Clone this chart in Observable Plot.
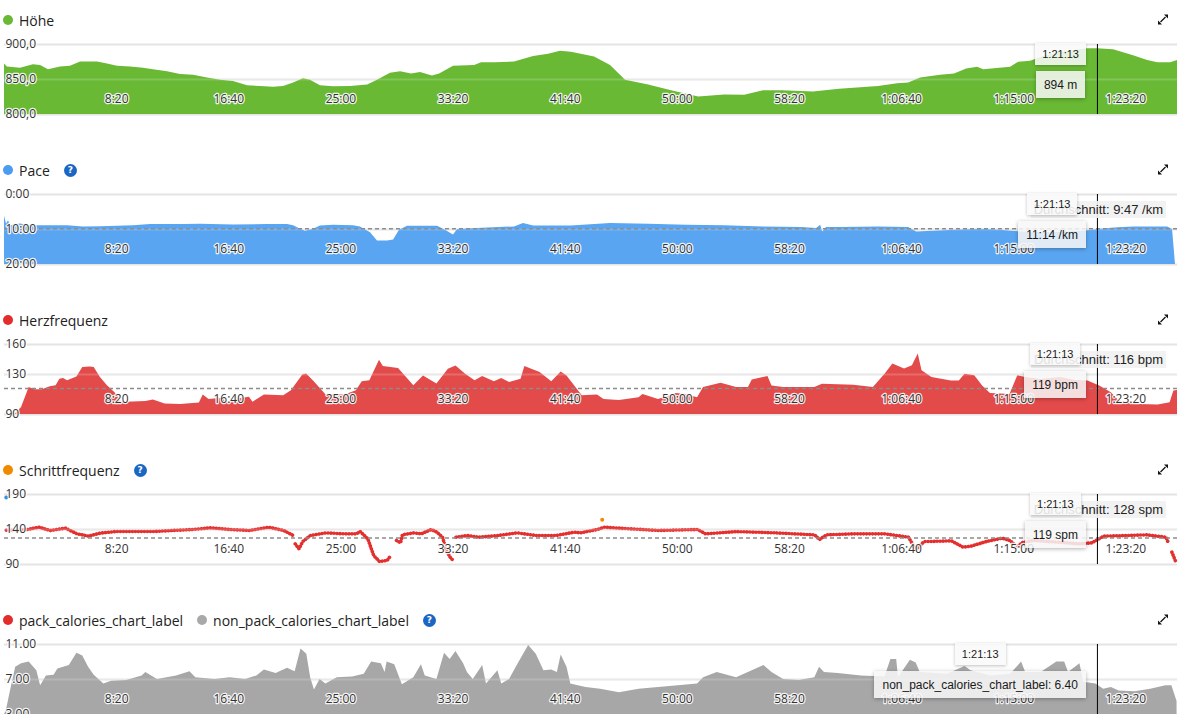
<!DOCTYPE html>
<html>
<head>
<meta charset="utf-8">
<script src="https://cdn.jsdelivr.net/npm/d3@7"></script>
<script src="https://cdn.jsdelivr.net/npm/@observablehq/plot@0.6"></script>
<style>
html,body{margin:0;padding:0;overflow:hidden;background:#fff;}
#root{position:relative;width:1192px;height:714px;overflow:hidden;font-family:"Open Sans",sans-serif;}
.panel{position:absolute;left:0;width:1192px;height:150px;}
.head{position:absolute;left:3px;top:10px;height:20px;display:flex;align-items:center;font-size:14px;color:#222;white-space:nowrap;}
.item{display:flex;align-items:center;margin-right:14px;}
.dot{width:10px;height:10px;border-radius:50%;display:inline-block;margin-right:6px;}
.help{width:13px;height:13px;border-radius:50%;background:#1b66c3;color:#fff;font:bold 9px "DejaVu Sans",sans-serif;display:flex;align-items:center;justify-content:center;}
.chart{position:absolute;left:0;top:30px;}
.expand{position:absolute;left:1157px;top:13px;}
.tipwrap{position:absolute;display:flex;flex-direction:column;align-items:center;gap:6px;z-index:3;}
.tbox{height:22px;padding:0 7px;background:rgba(249,249,249,0.88);box-shadow:0 1px 3px rgba(0,0,0,.25);font:11px "Liberation Sans",Arial,sans-serif;color:#1a1a1a;display:flex;align-items:center;}
.vbox{height:27px;padding:0 8px;background:rgba(247,247,247,0.86);box-shadow:0 1px 4px rgba(0,0,0,.3);font:12px "Liberation Sans",Arial,sans-serif;color:#1a1a1a;display:flex;align-items:center;white-space:nowrap;}
.avg{position:absolute;height:17px;padding:0 3px;background:rgba(241,241,241,0.92);font:13px "Liberation Sans",Arial,sans-serif;color:#222;display:flex;align-items:center;z-index:2;white-space:nowrap;}
</style>
</head>
<body>
<div id="root"></div>
<script>
// ---------- data (time in seconds, value) ----------
const T_END = 5230;
const CURSOR = 4873; // 1:21:13
const timeTicks = [500, 1000, 1500, 2000, 2500, 3000, 3500, 4000, 4500, 5000];

const elevation = [
[0,872],[13,868],[71,866],[129,871],[161,870],[196,864],[250,868],[294,869],[339,875],[415,875],
[459,872],[504,869],[562,868],[620,866],[664,864],[727,861],[785,857],[843,856],[905,852],[963,849],
[1021,847],[1084,841],[1142,840],[1200,839],[1244,840],[1289,845],[1333,851],[1364,849],[1409,841],[1467,839.5],
[1543,840],[1619,842],[1663,849],[1721,859],[1766,861],[1815,858],[1855,860],[1908,855],[1940,858],[2002,869],
[2096,870],[2127,874],[2189,874],[2274,875],[2359,883],[2426,886],[2479,890.5],[2528,889],[2631,882],[2702,870],
[2769,849],[2872,842],[2974,834],[3095,825],[3211,828],[3300,827.5],[3384,834],[3469,834],[3607,832],[3723,836],
[3897,840],[3982,844],[4031,845],[4085,852],[4174,856],[4236,858],[4290,865],[4339,867.6],[4366,864],[4486,867.6],
[4522,874.7],[4575,876],[4633,883],[4709,889],[4829,894],[4874,894],[4945,892.4],[5034,884],[5097,877],[5142,874],
[5200,874],[5230,877]
];

// pace in minutes per km
const pace = [
[0,6.2],[9,8.5],[18,7.5],[27,9.0],[40,8.8],[71,8.4],[103,8.8],[129,8.9],[205,8.9],[281,8.9],
[352,9.25],[428,9.2],[504,9.1],[575,8.9],[651,8.6],[798,8.6],[874,8.5],[1021,8.7],[1173,8.6],[1262,8.6],
[1289,8.9],[1320,9.9],[1342,10.5],[1378,9.9],[1409,9.0],[1467,8.8],[1556,8.9],[1587,9.25],[1632,10.9],[1663,13.3],
[1708,13.3],[1735,13.0],[1761,10.2],[1797,9.1],[1931,9.1],[1966,10.2],[2002,11.6],[2020,10.0],[2105,9.7],[2274,9.25],
[2314,8.3],[2359,9.0],[2528,9.0],[2702,8.3],[2872,8.5],[3041,8.8],[3211,8.9],[3384,9.25],[3554,9.4],[3621,9.7],
[3639,8.8],[3648,10.7],[3665,9.4],[3723,9.4],[3897,9.25],[4031,9.4],[4067,10.7],[4236,10.2],[4352,9.9],[4441,10.2],
[4530,10.7],[4664,10.9],[4811,10.5],[4887,9.9],[4963,9.5],[5034,9.25],[5186,9.25],[5208,10.0],[5221,20]
];
const paceAvg = 9 + 47 / 60;

const heartRate = [
[0,90],[50,90.7],[76,97],[110,117],[136,114.8],[169,114.8],[204,117.8],[230,118.7],[247,125.3],[263,126],
[281,123.7],[323,127.6],[349,136.9],[383,137.6],[400,137],[426,127.6],[459,118.7],[494,111.5],[519,102.9],[545,102.2],
[630,102.9],[664,104.5],[716,100.6],[785,99.9],[869,101.5],[886,109.5],[912,104.9],[972,106.2],[989,102.2],[1040,105.5],
[1092,107.2],[1108,102.2],[1159,109.5],[1245,108.8],[1279,113.8],[1330,129.6],[1347,130.6],[1381,122.7],[1433,109.8],[1518,109.5],
[1569,113.8],[1595,122.7],[1629,123.7],[1672,144.2],[1689,137.9],[1757,135.9],[1825,118.7],[1868,128.6],[1928,120.4],[1979,135.2],
[2013,138.6],[2056,130.3],[2098,123.7],[2132,128],[2184,122.7],[2217,126],[2252,122],[2303,125.3],[2320,137.9],[2388,132],
[2440,122.7],[2482,132.6],[2508,128.6],[2576,108.8],[2644,109.5],[2673,105],[2742,104],[2829,106.7],[2847,110.1],[2916,105],
[2995,111.1],[3038,110.1],[3090,106.7],[3117,116.9],[3195,121.2],[3264,116.9],[3317,116.9],[3334,124.6],[3404,128],[3422,118.5],
[3474,116.9],[3613,116.9],[3647,120.2],[3787,119.2],[3874,116.9],[3926,130.3],[3961,140.5],[4013,135.4],[4048,138.8],[4074,150.6],
[4091,133.7],[4135,127],[4222,123.6],[4257,123.6],[4283,130.3],[4326,128.7],[4361,118.5],[4396,111.1],[4483,110.1],[4518,128.7],
[4553,127],[4619,125],[4709,127],[4776,124],[4831,123.6],[4883,118.5],[4935,111.8],[4970,103.4],[5057,100],[5144,99.4],
[5197,101.7],[5214,113.5],[5230,114]
];
const heartRateAvg = 116;

// cadence (null = pause / gap)
const cadence = [
[8,139],[50,138.6],[102,140],[153,143.3],[204,138.6],[272,141.9],[323,133.8],[375,130.5],[426,134.8],[494,137.1],
[580,137.1],[664,137.1],[750,138.6],[836,140],[921,142.4],[1006,140],[1092,138.6],[1177,143.3],[1245,138.6],[1288,131.4],
[1292,null],
[1296,119.5],[1313,112.4],[1330,122.9],[1364,131.4],[1433,135.2],[1518,133.8],[1569,133.8],[1586,137.1],[1620,126.7],[1646,102.9],
[1672,94.3],[1706,95.7],[1723,102.9],
[1735,null],
[1748,124.3],[1766,121],[1774,132.4],[1825,135.2],[1859,133.8],[1902,140],[1928,136.2],[1953,129],[1970,110],[1987,100.5],[2004,94.3],
[2008,null],
[2013,129],[2064,131.4],[2115,129],[2200,131.4],[2286,135.2],[2371,131.4],[2457,131.4],[2542,136.2],[2568,135.2],[2644,140],
[2673,143.3],[2742,141.9],[2916,138.6],[3090,140],[3126,133.8],[3264,137.1],[3438,135.2],[3612,132.4],[3634,125.7],[3665,132.4],
[3786,133.8],[3926,133.8],[4031,129],[4048,119.5],[4065,111.4],[4100,122.9],[4135,122.9],[4222,123.8],[4274,114.8],[4309,116.2],
[4379,122.9],[4448,127.6],[4483,124.3],[4517,114.8],[4535,121],[4588,124.3],[4692,122],[4795,119.5],[4848,121],[4901,130.5],
[5005,131.4],[5092,132.4],[5179,129],[5188,121.9],
[5196,null],
[5205,107.6],[5222,94.3]
];
const cadenceFirst = [[8,185.7]];
const cadencePeak = [[2665,153.8]];
const cadenceAvg = 128;

const calories = [
[0,3.0],[8,3.4],[25,5.5],[50,8.4],[76,8.8],[110,9.0],[144,8.0],[161,6.3],[187,7.4],[221,7.5],
[238,8.2],[289,8.6],[323,10.0],[349,9.7],[375,8.4],[400,7.5],[443,6.5],[477,6.8],[545,6.9],[614,7.4],
[630,7.8],[682,7.0],[767,7.4],[827,7.9],[853,7.2],[938,7.0],[1006,7.2],[1075,7.0],[1125,7.4],[1159,8.1],
[1211,7.7],[1262,8.3],[1296,7.9],[1322,10.5],[1348,9.9],[1365,7.2],[1382,5.8],[1407,7.0],[1433,6.5],[1484,7.2],
[1552,7.3],[1604,7.6],[1637,9.0],[1680,8.8],[1697,7.8],[1706,9.0],[1740,8.7],[1774,6.4],[1825,7.2],[1859,8.7],
[1876,7.4],[1928,7.0],[1962,10.0],[1987,9.3],[2013,10.2],[2047,8.8],[2064,7.8],[2090,7.0],[2132,8.6],[2149,6.5],
[2200,8.0],[2217,6.5],[2252,7.0],[2286,8.6],[2337,10.9],[2371,9.9],[2405,8.0],[2440,8.1],[2465,7.8],[2482,9.8],
[2508,8.4],[2525,6.5],[2593,6.1],[2658,5.9],[2742,5.5],[2829,5.9],[2916,6.1],[3004,6.3],[3090,6.5],[3117,7.2],
[3178,7.8],[3264,7.2],[3334,8.0],[3386,8.6],[3422,7.8],[3474,7.0],[3543,6.9],[3613,7.2],[3634,8.4],[3656,7.8],
[3717,7.7],[3821,7.4],[3926,7.3],[3952,9.3],[3978,9.3],[3986,7.2],[4039,9.2],[4065,8.9],[4083,7.8],[4204,7.6],
[4283,8.5],[4309,8.0],[4397,7.4],[4486,7.6],[4535,9.0],[4553,7.8],[4622,7.8],[4692,9.0],[4727,9.0],[4744,7.8],
[4795,8.8],[4812,6.7],[4866,6.5],[4901,5.9],[4935,6.1],[4970,5.7],[5040,5.6],[5110,5.9],[5179,6.3],[5205,6.3],
[5228,4.5]
];

// tick labels & texts
const elevTicks = [900, 850, 800];
const paceTicks = [0, 10, 20];
const hrTicks = [160, 130, 90];
const cadTicks = [190, 140, 90];
const calTicks = [11, 7, 3];
const cursorLabel = "1:21:13";

// ---------- helpers ----------
const pad = n => String(n).padStart(2, "0");
function fmtTime(s) {
  const h = Math.floor(s / 3600), m = Math.floor((s % 3600) / 60), sec = Math.round(s % 60);
  return h ? `${h}:${pad(m)}:${pad(sec)}` : `${m}:${pad(sec)}`;
}
const root = document.getElementById("root");
const W = 1192;

function makePanel(k, cfg) {
  const panel = document.createElement("div");
  panel.className = "panel";
  panel.style.top = (150 * k) + "px";

  const head = document.createElement("div");
  head.className = "head";
  for (const it of cfg.legend) {
    const item = document.createElement("div");
    item.className = "item";
    const d = document.createElement("span");
    d.className = "dot"; d.style.background = it.color;
    item.appendChild(d);
    item.appendChild(document.createTextNode(it.label));
    head.appendChild(item);
  }
  if (cfg.help) {
    const h = document.createElement("div");
    h.className = "help"; h.textContent = "?";
    head.appendChild(h);
  }
  panel.appendChild(head);

  const ex = document.createElementNS("http://www.w3.org/2000/svg", "svg");
  ex.setAttribute("class", "expand");
  ex.setAttribute("width", "12"); ex.setAttribute("height", "13");
  ex.innerHTML = '<path d="M3.5 9 L8.5 4" stroke="#111" stroke-width="1.2"/><path d="M7 1.5 H11 V5.5 Z" fill="#111"/><path d="M1 7.5 V11.5 H5 Z" fill="#111"/>';
  panel.appendChild(ex);

  const textStyle = {fill: "#333", stroke: "white", strokeWidth: 2.5, strokeOpacity: 0.9, fontSize: 12};
  const plot = Plot.plot({
    width: W, height: 100,
    marginTop: 14, marginBottom: 16, marginLeft: 4, marginRight: 15,
    x: {domain: [0, T_END], axis: null},
    y: {domain: cfg.domain, reverse: !!cfg.reverse, axis: null},
    style: {background: "transparent", fontFamily: "'Open Sans', sans-serif", fontSize: "12px", color: "#333", overflow: "visible"},
    marks: [
      Plot.ruleY(cfg.ticks, {stroke: "#e4e4e4", strokeWidth: 2}),
      ...cfg.marks,
      Plot.ruleY(cfg.ticks.slice(1, -1), {stroke: "#ffffff", strokeOpacity: 0.18, strokeWidth: 2}),
      cfg.avg != null ? Plot.ruleY([cfg.avg], {stroke: "#8c8c8c", strokeWidth: 1.5, strokeDasharray: "4,3"}) : null,
      Plot.ruleX([CURSOR], {stroke: "#000", strokeWidth: 1}),
      Plot.text(timeTicks, {x: d => d, frameAnchor: "bottom", dy: -12, text: fmtTime, ...textStyle}),
      Plot.text(cfg.ticks, {y: d => d, frameAnchor: "left", textAnchor: "start", dx: 1, text: cfg.fmt, ...textStyle})
    ]
  });
  plot.classList.add("chart");
  panel.appendChild(plot);

  const xs = plot.scale("x"), ys = plot.scale("y");
  const cx = xs.apply(CURSOR);
  const right = xs.apply(T_END);
  const gy = 30 + ys.apply(cfg.ticks[0]);

  if (cfg.avgLabel) {
    const a = document.createElement("div");
    a.className = "avg";
    a.textContent = cfg.avgLabel;
    a.style.top = (gy + 7) + "px";
    a.style.right = (W - (right - 11)) + "px";
    panel.appendChild(a);
  }
  const wrap = document.createElement("div");
  wrap.className = "tipwrap";
  wrap.style.top = (gy - 1) + "px";
  wrap.style.right = (W - (cx - 11)) + "px";
  const tb = document.createElement("div"); tb.className = "tbox"; tb.textContent = cursorLabel;
  const vb = document.createElement("div"); vb.className = "vbox"; vb.textContent = cfg.value;
  wrap.appendChild(tb); wrap.appendChild(vb);
  panel.appendChild(wrap);

  root.appendChild(panel);
}

const X = d => d[0], Y = d => d[1];
const GREEN = "#69b934", BLUE = "#59a5f1", RED = "#e34a4a", DOTRED = "#e3302f", GRAY = "#a7a7a7", ORANGE = "#f08a00";

makePanel(0, {
  legend: [{label: "Höhe", color: GREEN}],
  domain: [800, 900], ticks: elevTicks, fmt: d => d.toFixed(1).replace(".", ","),
  marks: [Plot.areaY(elevation, {x: X, y1: 800, y2: Y, fill: GREEN})],
  value: "894 m"
});
makePanel(1, {
  legend: [{label: "Pace", color: "#4a9cf0"}], help: true,
  domain: [0, 20], reverse: true, ticks: paceTicks, fmt: d => `${d}:00`,
  marks: [Plot.areaY(pace, {x: X, y1: 20, y2: Y, fill: BLUE})],
  avg: paceAvg, avgLabel: "Durchschnitt: 9:47 /km", value: "11:14 /km"
});
makePanel(2, {
  legend: [{label: "Herzfrequenz", color: "#e32d2d"}],
  domain: [90, 160], ticks: hrTicks, fmt: d => String(d),
  marks: [Plot.areaY(heartRate, {x: X, y1: 90, y2: Y, fill: RED})],
  avg: heartRateAvg, avgLabel: "Durchschnitt: 116 bpm", value: "119 bpm"
});
makePanel(3, {
  legend: [{label: "Schrittfrequenz", color: ORANGE}], help: true,
  domain: [90, 190], ticks: cadTicks, fmt: d => String(d),
  marks: [
    Plot.line(cadence, {x: X, y: Y, stroke: DOTRED, strokeWidth: 3.6, strokeDasharray: "0.1,2.9", strokeLinecap: "round"}),
    Plot.dot(cadenceFirst, {x: X, y: Y, r: 2, fill: "#3b8fe0"}),
    Plot.dot(cadencePeak, {x: X, y: Y, r: 2, fill: ORANGE})
  ],
  avg: cadenceAvg, avgLabel: "Durchschnitt: 128 spm", value: "119 spm"
});
makePanel(4, {
  legend: [{label: "pack_calories_chart_label", color: "#e32d2d"}, {label: "non_pack_calories_chart_label", color: "#a9a9a9"}], help: true,
  domain: [3, 11], ticks: calTicks, fmt: d => d.toFixed(2),
  marks: [Plot.areaY(calories, {x: X, y1: 3, y2: Y, fill: GRAY})],
  value: "non_pack_calories_chart_label: 6.40"
});
</script>
</body>
</html>
